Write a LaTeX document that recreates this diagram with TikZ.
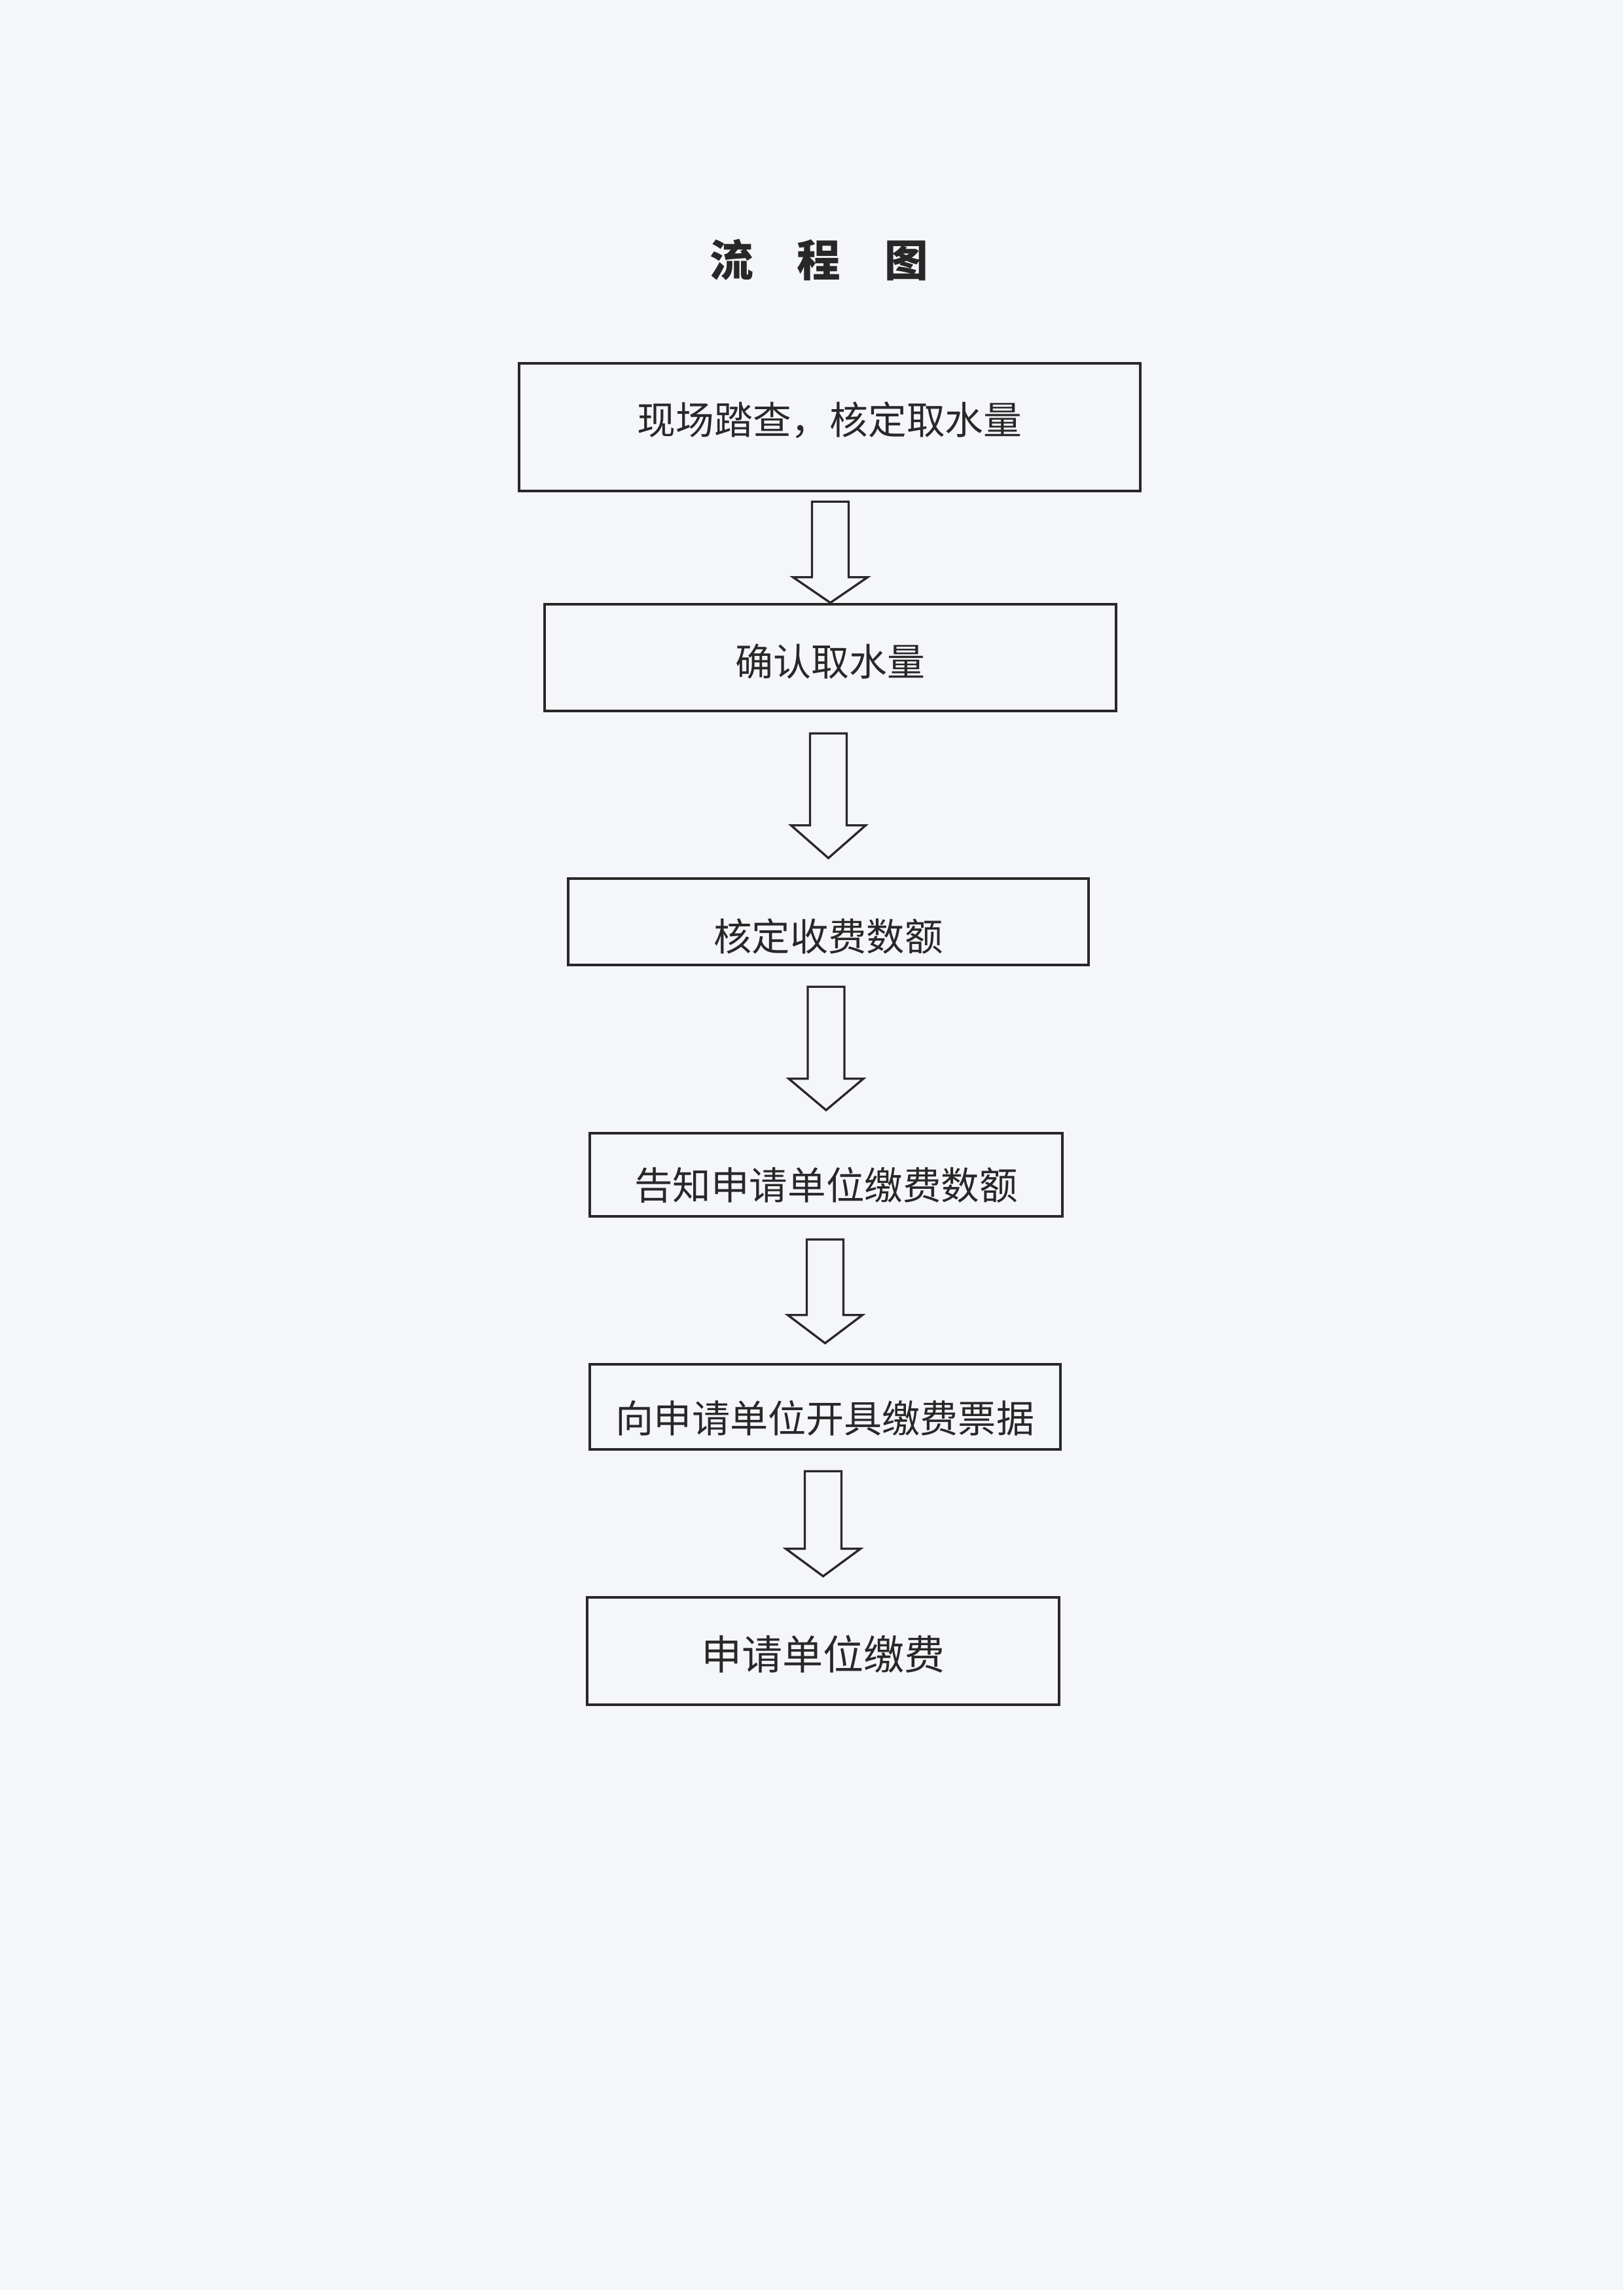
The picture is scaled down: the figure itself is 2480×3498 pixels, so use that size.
\documentclass[tikz,border=0pt]{standalone}
\usepackage{fontspec}
\newfontfamily\cjk{Noto Sans CJK SC}
\usetikzlibrary{calc}
\definecolor{paper}{RGB}{245,246,250}
\definecolor{inkc}{RGB}{40,40,40}
% #1 font size (pt), #2 downward shift (pt), #3 text
\newcommand{\boxtext}[3]{\raisebox{-#2pt}[0pt][0pt]{\fontsize{#1pt}{#1pt}\selectfont #3}}
% #1 upper node, #2 lower node, #3 top gap, #4 bottom gap, #5 head length (px)
\newcommand{\blockarrow}[5]{%
  \draw[blockarr]
    ($(#1.south -| #2.north)+(-28,#3)$) --
    ($(#2.north)+(-28,-#4-#5)$) --
    ($(#2.north)+(-57,-#4-#5)$) --
    ($(#2.north)+(0,-#4)$) --
    ($(#2.north)+(57,-#4-#5)$) --
    ($(#2.north)+(28,-#4-#5)$) --
    ($(#1.south -| #2.north)+(28,#3)$) -- cycle;}
\tikzset{
  flowbox/.style={draw=inkc, line width=1.1pt, rectangle, inner sep=0pt,
    fill=none, text=inkc, font=\cjk},
  blockarr/.style={draw=inkc, line width=0.8pt, line join=miter, fill=none},
}
\begin{document}
\begin{tikzpicture}[x=0.24pt, y=-0.24pt]
\useasboundingbox (0,0) rectangle (2480,3498);
\fill[paper] (0,0) rectangle (2480,3498);

\node[text=inkc, font=\cjk\bfseries, inner sep=0pt] (title) at (1251,397)
  {\boxtext{16}{6.1}{流　程　图}};

\node[flowbox, minimum width=949*0.24pt, minimum height=195*0.24pt] (b1) at (1267.5,652.5)
  {\boxtext{14.1}{2.7}{现场踏查，核定取水量}};
\node[flowbox, minimum width=873*0.24pt, minimum height=163*0.24pt] (b2) at (1268.5,1004.5)
  {\boxtext{13.9}{6.7}{确认取水量}};
\node[flowbox, minimum width=795*0.24pt, minimum height=132*0.24pt] (b3) at (1265.5,1408)
  {\boxtext{14.0}{10.6}{核定收费数额}};
\node[flowbox, minimum width=722*0.24pt, minimum height=127*0.24pt] (b4) at (1262,1794.5)
  {\boxtext{14.05}{9.2}{告知申请单位缴费数额}};
\node[flowbox, minimum width=719*0.24pt, minimum height=130*0.24pt] (b5) at (1260.5,2149)
  {\boxtext{13.95}{9.4}{向申请单位开具缴费票据}};
\node[flowbox, minimum width=721*0.24pt, minimum height=164*0.24pt] (b6) at (1257.5,2522)
  {\boxtext{14.9}{6.9}{申请单位缴费}};

\blockarrow{b1}{b2}{14}{0}{39}
\blockarrow{b2}{b3}{32}{29}{50}
\blockarrow{b3}{b4}{31}{33}{48}
\blockarrow{b4}{b5}{33}{30}{43}
\blockarrow{b5}{b6}{31}{30}{42}
\end{tikzpicture}
\end{document}
